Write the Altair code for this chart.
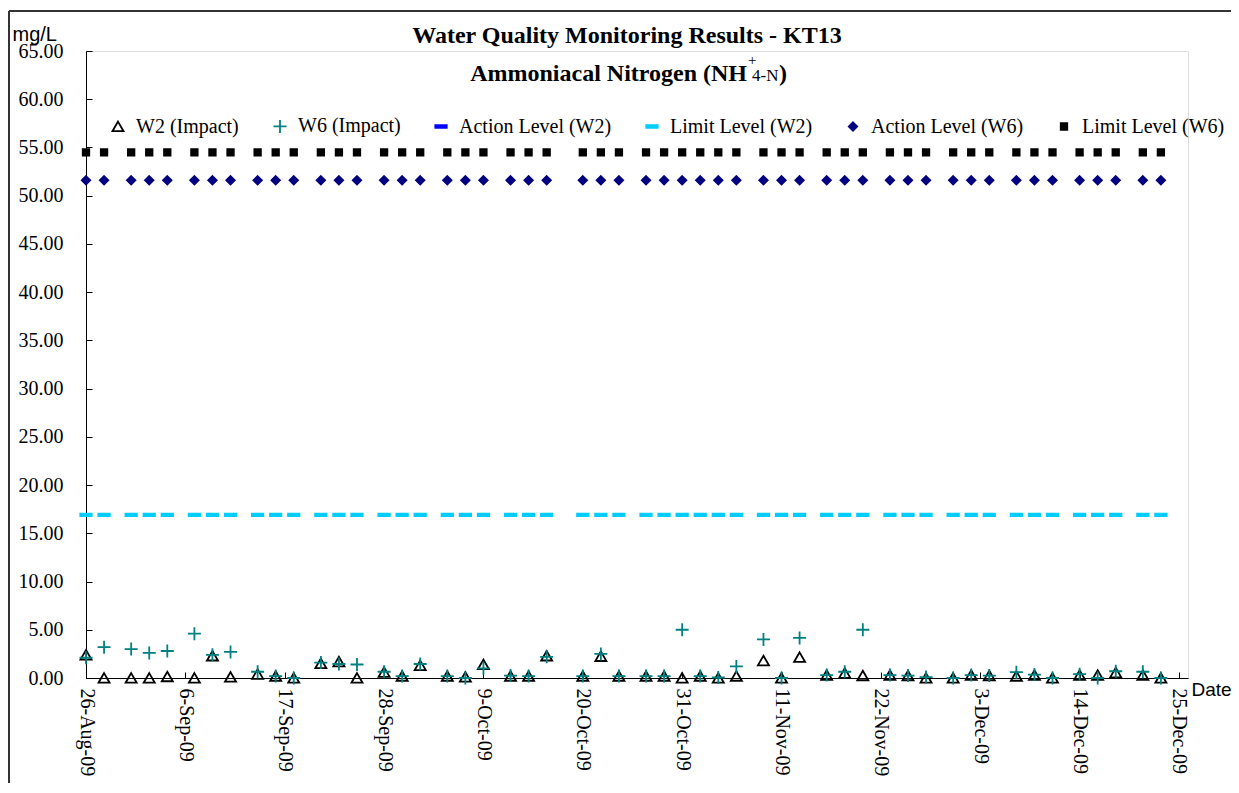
import altair as alt
import pandas as pd

# ---- data ----
dates = [
    "2009-08-26", "2009-08-28", "2009-08-31", "2009-09-02", "2009-09-04",
    "2009-09-07", "2009-09-09", "2009-09-11", "2009-09-14", "2009-09-16",
    "2009-09-18", "2009-09-21", "2009-09-23", "2009-09-25", "2009-09-28",
    "2009-09-30", "2009-10-02", "2009-10-05", "2009-10-07", "2009-10-09",
    "2009-10-12", "2009-10-14", "2009-10-16", "2009-10-20", "2009-10-22",
    "2009-10-24", "2009-10-27", "2009-10-29", "2009-10-31", "2009-11-02",
    "2009-11-04", "2009-11-06", "2009-11-09", "2009-11-11", "2009-11-13",
    "2009-11-16", "2009-11-18", "2009-11-20", "2009-11-23", "2009-11-25",
    "2009-11-27", "2009-11-30", "2009-12-02", "2009-12-04", "2009-12-07",
    "2009-12-09", "2009-12-11", "2009-12-14", "2009-12-16", "2009-12-18",
    "2009-12-21", "2009-12-23",
]
w2_impact = [
    2.4, 0.0, 0.0, 0.0, 0.15, 0.0, 2.3, 0.1, 0.4, 0.2,
    0.0, 1.5, 1.7, 0.0, 0.6, 0.2, 1.3, 0.2, 0.1, 1.4,
    0.2, 0.2, 2.3, 0.2, 2.25, 0.2, 0.2, 0.2, 0.0, 0.2,
    0.0, 0.2, 1.8, 0.0, 2.15, 0.3, 0.5, 0.25, 0.3, 0.25,
    0.0, 0.0, 0.3, 0.25, 0.2, 0.3, 0.0, 0.3, 0.3, 0.55,
    0.3, 0.0,
]
w6_impact = [
    2.1, 3.2, 3.0, 2.6, 2.8, 4.6, 2.4, 2.7, 0.65, 0.2,
    0.0, 1.6, 1.45, 1.4, 0.65, 0.2, 1.45, 0.2, 0.0, 1.0,
    0.25, 0.2, 2.2, 0.2, 2.5, 0.2, 0.2, 0.2, 5.0, 0.2,
    0.05, 1.2, 4.0, 0.0, 4.15, 0.3, 0.65, 5.0, 0.3, 0.25,
    0.1, 0.0, 0.3, 0.25, 0.6, 0.35, 0.0, 0.4, 0.0, 0.7,
    0.65, 0.0,
]
# constant trigger levels (same value on every sampling date)
limit_level_w2 = 16.9
action_level_w6 = 51.6
limit_level_w6 = 54.5

series_names = ["W2 (Impact)", "W6 (Impact)", "Action Level (W2)",
                "Limit Level (W2)", "Action Level (W6)", "Limit Level (W6)"]
series_stroke = ["#000000", "#008080", "#0000FF", "#00CCFF", "#000080", "#000000"]
series_fill = ["transparent", "transparent", "#0000FF", "#00CCFF", "#000080", "#000000"]
series_shape = [
    "M0,-0.75L0.85,0.72L-0.85,0.72Z",
    "M-1,0H1M0,-1V1",
    "M-0.88,-0.19H0.88V0.19H-0.88Z",
    "M-0.88,-0.19H0.88V0.19H-0.88Z",
    "M0,-0.65L0.65,0L0,0.65L-0.65,0Z",
    "M-0.5,-0.5H0.5V0.5H-0.5Z",
]

tick_dates = ["2009-08-26", "2009-09-06", "2009-09-17", "2009-09-28",
              "2009-10-09", "2009-10-20", "2009-10-31", "2009-11-11",
              "2009-11-22", "2009-12-03", "2009-12-14", "2009-12-25"]
x_domain = ["2009-08-26", "2009-12-26"]
y_ticks = [0, 5, 10, 15, 20, 25, 30, 35, 40, 45, 50, 55, 60, 65]

title_text = "Water Quality Monitoring Results - KT13"
subtitle_main = "Ammoniacal Nitrogen (NH"
subtitle_sup = "+"
subtitle_sub = "4-N"
subtitle_end = ")"


def dt(s):
    y, m, d = (int(p) for p in s.split("-"))
    return alt.DateTime(year=y, month=m, date=d)


rows = []
for d, v in zip(dates, w2_impact):
    rows.append((d, v, series_names[0]))
for d, v in zip(dates, w6_impact):
    rows.append((d, v, series_names[1]))
for d in dates:
    rows.append((d, limit_level_w2, series_names[3]))
for d in dates:
    rows.append((d, action_level_w6, series_names[4]))
for d in dates:
    rows.append((d, limit_level_w6, series_names[5]))
df = pd.DataFrame(rows, columns=["date", "value", "series"])
df["date"] = pd.to_datetime(df["date"])

W, H = 1102, 627
SERIF = "Liberation Serif, Times New Roman, serif"
SANS = "Liberation Sans Narrow, Arial Narrow, Liberation Sans, sans-serif"

x_scale = alt.Scale(domain=[dt(s) for s in x_domain], nice=False)
y_scale = alt.Scale(domain=[0, 65], nice=False, zero=True)

legend = alt.Legend(
    orient="none", legendX=22, legendY=65, direction="horizontal", columns=6,
    title=None, labelFont=SERIF, labelFontSize=20, labelColor="black",
    symbolSize=169, symbolStrokeWidth=1.8, columnPadding=30, labelOffset=8,
    padding=0, rowPadding=0, labelLimit=400,
)

points = alt.Chart(df).mark_point(size=169, strokeWidth=1.8, opacity=1).encode(
    x=alt.X("date:T", scale=x_scale, axis=alt.Axis(
        orient="bottom", values=[dt(s) for s in tick_dates], format="%-d-%b-%y",
        labelAngle=90, labelFont=SERIF, labelFontSize=20, labelColor="black",
        labelPadding=10, ticks=False, tickSize=0, domainColor="black",
        domainWidth=1, grid=False, labelFlush=False, labelOverlap=False,
        labelBound=False, title="Date", titleFont=SANS, titleFontSize=19,
        titleFontWeight="normal", titleColor="black", titleAngle=0,
        titleX=1105, titleY=17, titleAlign="left", titleBaseline="alphabetic",
    )),
    y=alt.Y("value:Q", scale=y_scale, axis=alt.Axis(
        orient="left", values=y_ticks, format=".2f", labelFont=SERIF,
        labelFontSize=20, labelColor="black", labelPadding=23, ticks=False,
        tickSize=0, domainColor="black", domainWidth=1, grid=False,
        labelOverlap=False, labelFlush=False, title="mg/L", titleFont=SANS,
        titleFontSize=20, titleFontWeight="normal", titleColor="black",
        titleAngle=0, titleX=-74, titleY=-11, titleAlign="left",
        titleBaseline="alphabetic",
    )),
    shape=alt.Shape("series:N", scale=alt.Scale(domain=series_names, range=series_shape), legend=legend),
    fill=alt.Fill("series:N", scale=alt.Scale(domain=series_names, range=series_fill), legend=legend),
    stroke=alt.Stroke("series:N", scale=alt.Scale(domain=series_names, range=series_stroke), legend=legend),
)

tick_layer = alt.Chart(df.head(1)).mark_point(opacity=0).encode(
    x=alt.X("date:T", scale=x_scale, axis=alt.Axis(
        orient="bottom", values=[dt(s) for s in tick_dates], labels=False,
        domain=False, ticks=True, tickSize=6, tickColor="black", offset=-6,
        grid=False, title=None)),
    y=alt.Y("value:Q", scale=y_scale, axis=alt.Axis(
        orient="left", values=y_ticks, labels=False, domain=False, ticks=True,
        tickSize=6, tickColor="black", offset=-6, grid=False, title=None)),
)


def text_layer(text, x, y, size, weight, align):
    return alt.Chart(pd.DataFrame({"t": [text]})).mark_text(
        font=SERIF, fontSize=size, fontWeight=weight, align=align,
        baseline="alphabetic", color="black",
    ).encode(x=alt.value(x), y=alt.value(y), text="t:N")


one = pd.DataFrame({"a": [0]})
frame_left = alt.Chart(one).mark_rule(color="#333333", strokeWidth=2).encode(
    x=alt.value(-77), y=alt.value(-40), y2=alt.value(800))
frame_top = alt.Chart(one).mark_rule(color="#333333", strokeWidth=2).encode(
    x=alt.value(-77), x2=alt.value(1250), y=alt.value(-40))

chart = alt.layer(
    frame_left, frame_top, points, tick_layer,
    text_layer(title_text, 541, -8, 24, "bold", "center"),
    text_layer(subtitle_main, 661, 30, 24, "bold", "right"),
    text_layer(subtitle_sup, 662, 14, 15, "normal", "left"),
    text_layer(subtitle_sub, 666, 30, 17, "normal", "left"),
    text_layer(subtitle_end, 693, 30, 24, "bold", "left"),
).resolve_axis(x="independent", y="independent").properties(
    width=W, height=H,
    padding={"left": 78, "top": 43, "right": 43, "bottom": 105},
    autosize=alt.AutoSizeParams(type="none"),
).configure_view(stroke=None).configure(background="white")

chart.save("out.html", embed_options={"renderer": "svg", "actions": False})
